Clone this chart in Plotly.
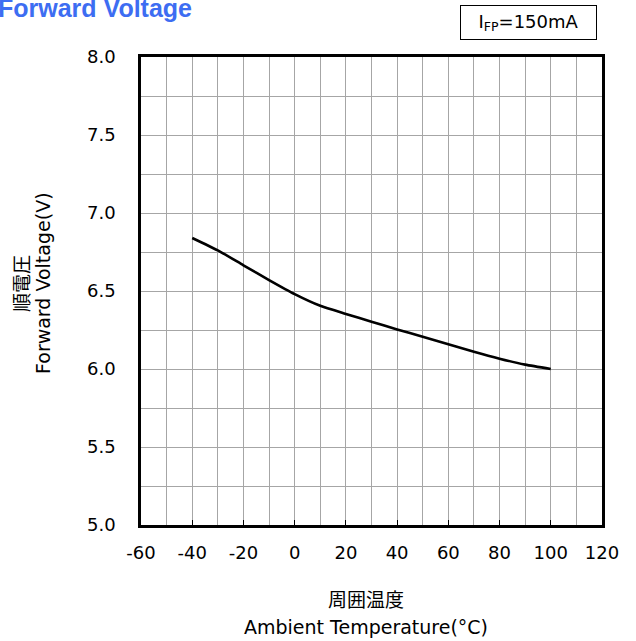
import plotly.graph_objects as go

# Data
temperature_c = [-40, -30, -20, -10, 0, 10, 20, 30, 40, 50, 60, 70, 80, 90, 100]
forward_voltage_v = [6.84, 6.76, 6.665, 6.57, 6.48, 6.405, 6.353, 6.303, 6.254, 6.207, 6.158, 6.11, 6.066, 6.028, 6.0]

x_ticks = [-60, -40, -20, 0, 20, 40, 60, 80, 100, 120]
y_ticks = [5.0, 5.5, 6.0, 6.5, 7.0, 7.5, 8.0]

W, H = 636, 641
L, R, T, B = 141, 34, 57, 116
pw, ph = W - L - R, H - T - B

def px(x):
    return (x - L) / pw

def py(y):
    return (H - B - y) / ph

FONT = "DejaVu Sans, Noto Sans CJK JP"
GRID = "#a6a6a6"

fig = go.Figure()
fig.add_trace(go.Scatter(
    x=temperature_c, y=forward_voltage_v, mode="lines",
    line=dict(color="black", width=2.6, shape="spline", smoothing=0.6),
    showlegend=False, hoverinfo="skip",
))

fig.update_layout(
    width=W, height=H,
    margin=dict(l=L, r=R, t=T, b=B, pad=0),
    paper_bgcolor="white", plot_bgcolor="white",
    font=dict(family=FONT, size=18, color="black"),
    xaxis=dict(
        range=[-60, 120], tickvals=x_ticks, ticktext=[str(v) for v in x_ticks],
        showgrid=True, gridcolor=GRID, gridwidth=1,
        minor=dict(dtick=10, tick0=0, showgrid=True, gridcolor=GRID, gridwidth=1),
        showline=True, linecolor="black", linewidth=2.5, mirror=True,
        ticks="inside", ticklen=5, tickcolor="black", tickwidth=1,
        ticklabelstandoff=10, zeroline=False,
        tickfont=dict(family=FONT, size=18),
    ),
    yaxis=dict(
        range=[5.0, 8.0], tickvals=y_ticks, ticktext=[f"{v:.1f}" for v in y_ticks],
        showgrid=True, gridcolor=GRID, gridwidth=1,
        minor=dict(dtick=0.25, tick0=5.0, showgrid=True, gridcolor=GRID, gridwidth=1),
        showline=True, linecolor="black", linewidth=2.5, mirror=True,
        ticks="", ticklabelstandoff=19, zeroline=False,
        tickfont=dict(family=FONT, size=18),
    ),
    annotations=[
        dict(text="<b>Forward Voltage</b>", xref="paper", yref="paper",
             x=px(-4), y=py(-8), xanchor="left", yanchor="top", showarrow=False,
             font=dict(family="Liberation Sans, Arial", size=25, color="#3d6df2")),
        dict(text="I<sub>FP</sub>=150mA", xref="paper", yref="paper",
             x=px(528.5), y=py(22.5), xanchor="center", yanchor="middle", showarrow=False,
             width=133, height=31, borderpad=1, bordercolor="black", borderwidth=1,
             bgcolor="white", font=dict(family=FONT, size=18)),
        dict(text="順電圧", xref="paper", yref="paper", textangle=-90,
             x=px(22), y=py(283), xanchor="center", yanchor="middle", showarrow=False,
             font=dict(family=FONT, size=19)),
        dict(text="Forward Voltage(V)", xref="paper", yref="paper", textangle=-90,
             x=px(43), y=py(283), xanchor="center", yanchor="middle", showarrow=False,
             font=dict(family=FONT, size=19)),
        dict(text="周囲温度", xref="paper", yref="paper",
             x=px(366), y=py(600), xanchor="center", yanchor="middle", showarrow=False,
             font=dict(family=FONT, size=19)),
        dict(text="Ambient Temperature(°C)", xref="paper", yref="paper",
             x=px(366), y=py(627), xanchor="center", yanchor="middle", showarrow=False,
             font=dict(family=FONT, size=19)),
    ],
)

fig.write_html(
    "out.html",
    config={"displayModeBar": False},
    post_script="document.body.style.margin='0';document.body.style.overflow='hidden';",
)
